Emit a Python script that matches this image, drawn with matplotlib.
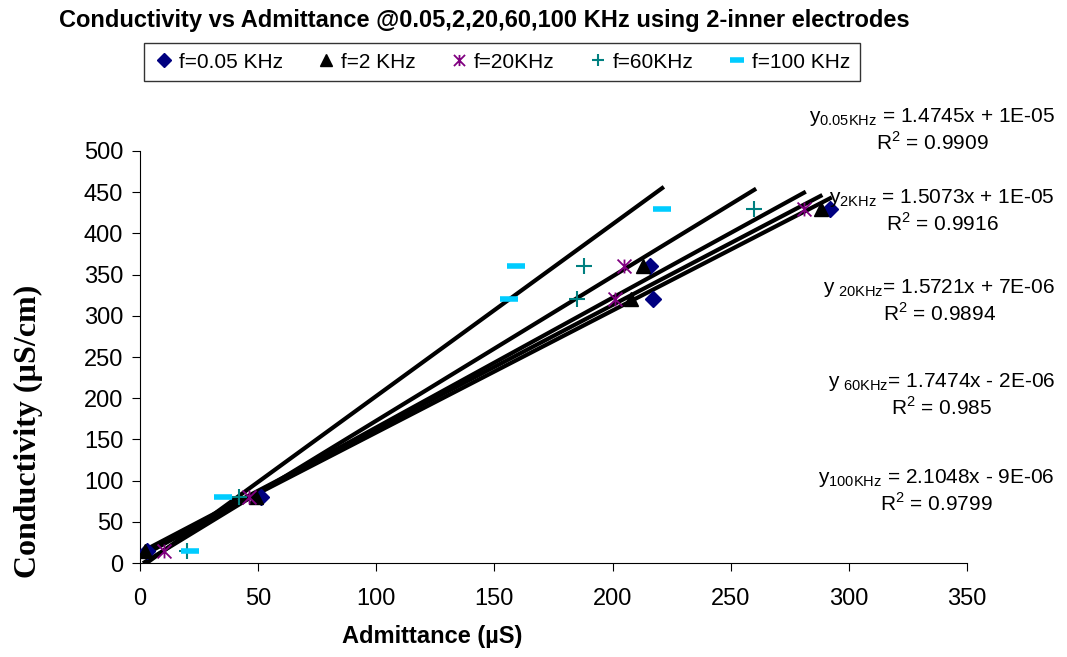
import matplotlib
matplotlib.use("Agg")
import matplotlib.pyplot as plt
from matplotlib.lines import Line2D
from matplotlib.path import Path
import numpy as np

plt.rcParams['font.family'] = ['Liberation Sans', 'DejaVu Sans']
plt.rcParams['mathtext.fontset'] = 'custom'
plt.rcParams['mathtext.rm'] = 'Liberation Sans'

# data: admittance (uS) vs conductivity (uS/cm)
labels = ['f=0.05 KHz', 'f=2 KHz', 'f=20KHz', 'f=60KHz', 'f=100 KHz']
x_005 = [3, 51, 217, 216, 292]
x_2 = [2, 49, 208, 213, 288]
x_20 = [10, 46, 201, 205, 281]
x_60 = [20, 42, 185, 188, 260]
x_100 = [21, 35, 156, 159, 221]
y_cond = [15, 80, 320, 360, 430]

eq_names = ['0.05KHz', '2KHz', ' 20KHz', ' 60KHz', '100KHz']
eq_slopes = ['1.4745', '1.5073', '1.5721', '1.7474', '2.1048']
eq_icpts = ['+ 1E-05', '+ 1E-05', '+ 7E-06', '- 2E-06', '- 9E-06']
eq_r2 = ['0.9909', '0.9916', '0.9894', '0.985', '0.9799']

# excel style star: an X with a vertical bar
star = Path([(-1, -1), (1, 1), (-1, 1), (1, -1), (0, -1), (0, 1)],
            [Path.MOVETO, Path.LINETO, Path.MOVETO, Path.LINETO, Path.MOVETO, Path.LINETO])

xs = [x_005, x_2, x_20, x_60, x_100]
colors = ['#000080', '#000000', '#800080', '#008080', '#00CCFF']
markers = ['D', '^', star, '+', '_']
msizes = [8.5, 10, 10, 11, 13]
mews = [1, 1, 1.3, 1.5, 4]

fig = plt.figure(figsize=(10.67, 6.57), dpi=100)
ax = fig.add_axes([140/1067, 1 - 563/657, 827/1067, 412/657])

x_start = min(min(x) for x in xs)
for x in xs:
    # linear trendline over the data
    k, b = np.polyfit(x, y_cond, 1)
    xx = np.array([x_start, max(x)])
    ax.plot(xx, k * xx + b, color='black', lw=3, zorder=2)
for x, c, m, ms, mw in zip(xs, colors, markers, msizes, mews):
    ax.plot(x, y_cond, linestyle='none', marker=m, color=c, markersize=ms,
            markeredgewidth=mw, zorder=3)

ax.set_xlim(0, 350)
ax.set_ylim(0, 500)
ax.set_xticks(np.arange(0, 351, 50))
ax.set_yticks(np.arange(0, 501, 50))
ax.spines['top'].set_visible(False)
ax.spines['right'].set_visible(False)
ax.tick_params(direction='out', length=6, labelsize=17, pad=6)
ax.tick_params(axis='x', pad=12)

fig.text(484/1067, 1 - 20/657,
         'Conductivity vs Admittance @0.05,2,20,60,100 KHz using 2-inner electrodes',
         ha='center', va='center', fontsize=17, fontweight='bold')
fig.text(432/1067, 1 - 637/657, 'Admittance (µS)', ha='center', va='center',
         fontsize=17, fontweight='bold')
fig.text(28/1067, 1 - 431/657, 'Conductivity (µS/cm)', ha='center', va='center',
         rotation=90, fontsize=23, fontweight='bold', family='Liberation Serif')

handles = [Line2D([], [], linestyle='none', marker=m, color=c, markersize=ms * 0.8,
                  markeredgewidth=mw)
           for c, m, ms, mw in zip(colors, markers, msizes, mews)]
leg = fig.legend(handles, labels, loc='center', bbox_to_anchor=(502/1067, 1 - 62/657),
                 ncol=5, fontsize=15, frameon=True, fancybox=False, edgecolor='black',
                 handletextpad=0.2, columnspacing=1.6, handlelength=1.0,
                 borderpad=0.45)
leg.get_frame().set_linewidth(1)

eq_y = [130, 211, 301, 395, 491]
for name, s, ic, r2, yy in zip(eq_names, eq_slopes, eq_icpts, eq_r2, eq_y):
    sep = ' = ' if not name.startswith(' ') else '= '
    txt = 'y$_{\\mathrm{' + name.replace(' ', '\\ ') + '}}$' + sep + s + 'x ' + ic + '\nR$^{2}$ = ' + r2
    fig.text(1055/1067, 1 - yy/657, txt, ha='right', va='center', fontsize=15,
             multialignment='center', linespacing=1.15)

fig.savefig('out.png', dpi=100)
